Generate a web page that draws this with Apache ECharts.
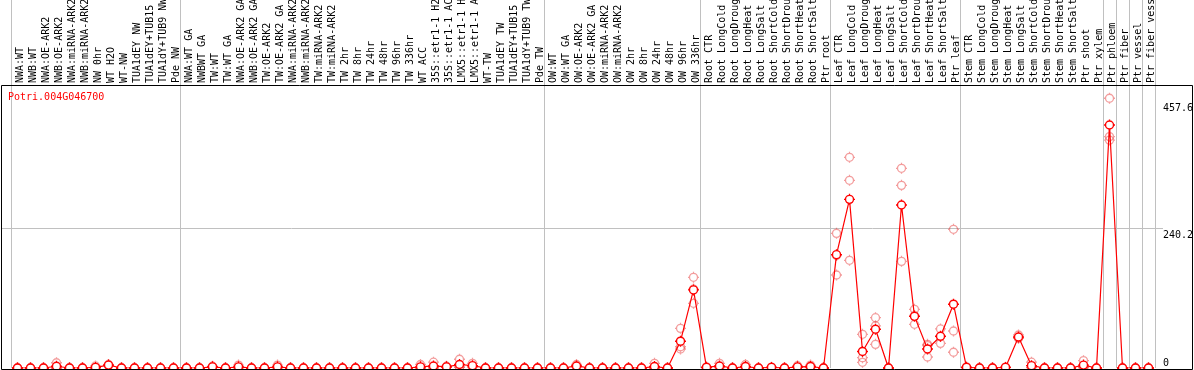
<!DOCTYPE html>
<html><head><meta charset="utf-8">
<script src="https://cdn.jsdelivr.net/npm/echarts@6/dist/echarts.min.js"></script>
<style>html,body{margin:0;padding:0;background:#fff}#c{width:1194px;height:370px}</style>
</head><body><div id="c"></div>
<script>
const geneId = 'Potri.004G046700';

const categories = [
  'NWA:WT','NWB:WT','NWA:OE-ARK2','NWB:OE-ARK2','NWA:miRNA-ARK2','NWB:miRNA-ARK2','NW 0hr','WT H2O','WT-NW','TUA1dEY NW','TUA1dEY+TUB15','TUA1dY+TUB9 NW','Pde NW',
  'NWA:WT GA','NWBWT GA','TW:WT','TW:WT GA','NWA:OE-ARK2 GA','NWB:OE-ARK2 GA','TW:OE-ARK2','TW:OE-ARK2 GA','NWA:miRNA-ARK2','NWB:miRNA-ARK2','TW:miRNA-ARK2','TW:miRNA-ARK2','TW 2hr','TW 8hr','TW 24hr','TW 48hr','TW 96hr','TW 336hr','WT ACC','35S::etr1-1 H2','35S::etr1-1 AC','LMX5::etr1-1 H','LMX5::etr1-1 A','WT-TW','TUA1dEY TW','TUA1dEY+TUB15','TUA1dY+TUB9 TW','Pde TW',
  'OW:WT','OW:WT GA','OW:OE-ARK2','OW:OE-ARK2 GA','OW:miRNA-ARK2','OW:miRNA-ARK2','OW 2hr','OW 8hr','OW 24hr','OW 48hr','OW 96hr','OW 336hr',
  'Root CTR','Root LongCold','Root LongDroug','Root LongHeat','Root LongSalt','Root ShortCold','Root ShortDrou','Root ShortHeat','Root ShortSalt','Ptr root',
  'Leaf CTR','Leaf LongCold','Leaf LongDroug','Leaf LongHeat','Leaf LongSalt','Leaf ShortCold','Leaf ShortDrou','Leaf ShortHeat','Leaf ShortSalt','Ptr leaf',
  'Stem CTR','Stem LongCold','Stem LongDroug','Stem LongHeat','Stem LongSalt','Stem ShortCold','Stem ShortDrou','Stem ShortHeat','Stem ShortSalt','Ptr shoot',
  'Ptr xylem','Ptr phloem','Ptr fiber','Ptr vessel','Ptr fiber vessel'
];

// mean expression (line)
const meanValues = [
  0,0,0,3,0,0,1,5,0,0,0,0,0,
  0,0,2,0,2,0,0,2,0,0,0,0,0,0,0,0,0,0,2,3.5,2,6,4,0,0,0,0,0,
  0,0,3.5,0,0,0,0,0,2.5,0,46,134,
  1,3.5,0,2.5,0,1,0,2,2.5,0,
  194.5,289.4,28.4,66.4,0,279.7,88.6,32.6,54.4,109.5,
  1,0,0,1,53.2,4,0,0,0,5,
  0,417,0,0,0
];
// replicates (pale points)
const rep1 = [
  0,0,0,9,0,0,3.5,6,0,0,0,0,0,
  0,0,3,0,5,0,0,5,0,0,0,0,0,0,0,0,0,0,6,10,3,15,8,0,0,0,0,0,
  0,0,6,0,0,0,0,0,8,0,68,155.6,
  2,8,0,6,0,1.5,0,4,5,0,
  231,361.5,57.8,86.3,0,342.6,100.6,40.6,67,238,
  2,0,0,1.5,56.6,10,0,0,0,12.6,
  0,462.8,0,0,0
];
const rep2 = [
  0,0,0,0,0,0,0,5,0,0,0,0,0,
  0,0,2,0,1,0,0,1,0,0,0,0,0,0,0,0,0,0,0,0.5,2,2,3,0,0,0,0,0,
  0,0,3,0,0,0,0,0,0,0,36.5,111,
  1,2,0,1,0,1,0,1,2,0,
  159.6,322,17.7,40.6,0,313.4,75,18.9,42.3,63.5,
  1,0,0,1,52,1.5,0,0,0,2,
  0,397,0,0,0
];
const rep3 = [
  0,0,0,0,0,0,0,4,0,0,0,0,0,
  0,0,1,0,0,0,0,0,0,0,0,0,0,0,0,0,0,0,0,0,1,1,1,0,0,0,0,0,
  0,0,1.5,0,0,0,0,0,0,0,32.6,135.4,
  0,0.5,0,0.5,0,0.5,0,1,0.5,0,
  193,184.8,9.8,72.3,0,183,90.2,38.3,53.9,27,
  0,0,0,0.5,51,0.5,0,0,0,0.4,
  0,391,0,0,0
];
const groupStarts = [0, 13, 41, 53, 63, 73, 84, 85, 86, 87];
const yTickLabels = [240.2, 457.6];
const yZeroLabel = [0];
const midGridValue = 240.2;

const yAxisMax = 631.4;
const mono = 'DejaVu Sans Mono';
const markerPath = 'path://M3,11A8,8,0,1,1,19,11A8,8,0,1,1,3,11Z M11,0L11,3 M11,19L11,22 M0,11L3,11 M19,11L22,11';

const chart = echarts.init(document.getElementById('c'), null, {renderer: 'canvas'});

function repSeries(arr) {
  return {
    type: 'scatter', z: 2,
    data: arr.map((v, i) => [i, v]),
    symbol: markerPath, symbolSize: 11,
    itemStyle: {color: 'rgba(255,255,255,0)', borderColor: 'rgba(228,30,30,0.55)', borderWidth: 1.3},
    silent: true
  };
}

const yAxisCommon = {
  type: 'value', min: 0, max: yAxisMax, position: 'right',
  axisLine: {show: false}, axisTick: {show: false}, splitLine: {show: false}
};

chart.setOption({
  animation: false,
  title: {text: geneId, left: 8, top: 92, padding: 0,
    textStyle: {fontFamily: mono, fontSize: 10, fontWeight: 'normal', color: '#ff0000'}},
  grid: {left: 11, right: 39, top: 0, bottom: 2, containLabel: false, outerBoundsMode: 'none'},
  xAxis: {
    type: 'category', data: categories, position: 'top', offset: -85, boundaryGap: true,
    axisLine: {show: false}, axisTick: {show: false},
    axisLabel: {rotate: 90, margin: 2, interval: 0, fontFamily: mono, fontSize: 10, color: '#000',
      verticalAlign: 'top', lineHeight: 5},
    splitLine: {show: true, interval: (i) => groupStarts.includes(i), lineStyle: {color: '#c0c0c0', width: 1}}
  },
  yAxis: [
    Object.assign({}, yAxisCommon, {axisLabel: {customValues: yTickLabels, verticalAlign: 'top', margin: 8,
      fontFamily: mono, fontSize: 10, color: '#000', padding: [2, 0, 0, 0], formatter: v => String(v)}}),
    Object.assign({}, yAxisCommon, {axisLabel: {customValues: yZeroLabel, verticalAlign: 'bottom', margin: 8,
      fontFamily: mono, fontSize: 10, color: '#000', formatter: v => String(v)}})
  ],
  series: [
    repSeries(rep1), repSeries(rep2), repSeries(rep3),
    {
      type: 'line', z: 3, data: meanValues, symbol: markerPath, symbolSize: 11, showSymbol: true,
      lineStyle: {color: '#ff0000', width: 1.2},
      itemStyle: {color: '#ffffff', borderColor: '#ff0000', borderWidth: 1.4},
      silent: true
    }
  ]
});

const gy = chart.convertToPixel({yAxisIndex: 0}, midGridValue);
chart.setOption({
  graphic: [
    {type: 'line', z: 0, silent: true, shape: {x1: 1, y1: Math.round(gy) + 0.5, x2: 1163, y2: Math.round(gy) + 0.5},
      style: {stroke: '#c0c0c0', lineWidth: 1}},
    {type: 'rect', z: 100, silent: true, shape: {x: 1.5, y: 85.5, width: 1191, height: 284},
      style: {fill: 'none', stroke: '#000', lineWidth: 1}}
  ]
});
</script>
</body></html>
